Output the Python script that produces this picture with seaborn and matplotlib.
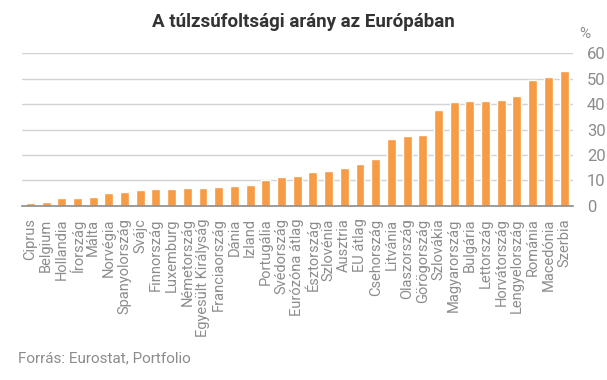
import numpy as np
import pandas as pd
import matplotlib
matplotlib.use('Agg')
import matplotlib.pyplot as plt
import seaborn as sns

# adatok
orszagok = ['Ciprus', 'Belgium', 'Hollandia', 'Írország', 'Málta', 'Norvégia',
            'Spanyolország', 'Svájc', 'Finnország', 'Luxemburg', 'Németország',
            'Egyesült Királyság', 'Franciaország', 'Dánia', 'Izland', 'Portugália',
            'Svédország', 'Eurózóna átlag', 'Észtország', 'Szlovénia', 'Ausztria',
            'EU átlag', 'Csehország', 'Litvánia', 'Olaszország', 'Görögország',
            'Szlovákia', 'Magyarország', 'Bulgária', 'Lettország', 'Horvátország',
            'Lengyelország', 'Románia', 'Macedónia', 'Szerbia']
arany = [1.2, 1.6, 3.1, 3.1, 3.5, 5.1, 5.5, 6.3, 6.7, 6.7, 7.1, 7.1, 7.5, 7.9, 8.2,
         10.2, 11.4, 11.8, 13.4, 13.8, 14.9, 16.5, 18.5, 26.3, 27.5, 27.9, 37.7,
         40.9, 41.3, 41.3, 41.7, 43.2, 49.5, 50.7, 53.1]
y_ticks = [0, 10, 20, 30, 40, 50, 60]

df = pd.DataFrame({'orszag': orszagok, 'arany': arany})

sns.set_theme(style='white')
plt.rcParams['font.family'] = ['Roboto', 'DejaVu Sans']

fig = plt.figure(figsize=(6.07, 3.8), dpi=100)
ax = fig.add_axes([0.036, 0.458, 0.908, 0.402])

sns.barplot(data=df, x='orszag', y='arany', color='#F79B45', saturation=1,
            width=0.57, ax=ax)

ax.set_xlim(-0.54, len(orszagok) - 1 + 0.57)
ax.set_ylim(0, 60)
ax.set_yticks(y_ticks)
ax.yaxis.tick_right()
ax.grid(axis='y', color='#D3D3D3', linewidth=1)
ax.set_axisbelow(True)
for s in ['top', 'left', 'right']:
    ax.spines[s].set_visible(False)
ax.spines['bottom'].set_color('#8C8C8C')
ax.spines['bottom'].set_linewidth(1.2)
ax.tick_params(axis='y', length=0, pad=10, labelsize=12, labelcolor='#8C8C8C')
ax.tick_params(axis='x', length=0, pad=9, labelsize=10.5, labelcolor='#8C8C8C')
plt.setp(ax.get_xticklabels(), rotation=90, ha='center', va='top')
ax.set_xlabel('')
ax.set_ylabel('')

fig.text(0.955, 0.91, '%', fontsize=11, color='#8C8C8C', ha='left', va='center')
fig.text(0.5, 0.942, 'A túlzsúfoltsági arány az Európában', fontsize=13.5,
         fontweight='bold', color='#333333', ha='center', va='center')
fig.text(0.03, 0.058, 'Forrás: Eurostat, Portfolio', fontsize=11,
         color='#8C8C8C', ha='left', va='center')

fig.savefig('out.png', dpi=100)
